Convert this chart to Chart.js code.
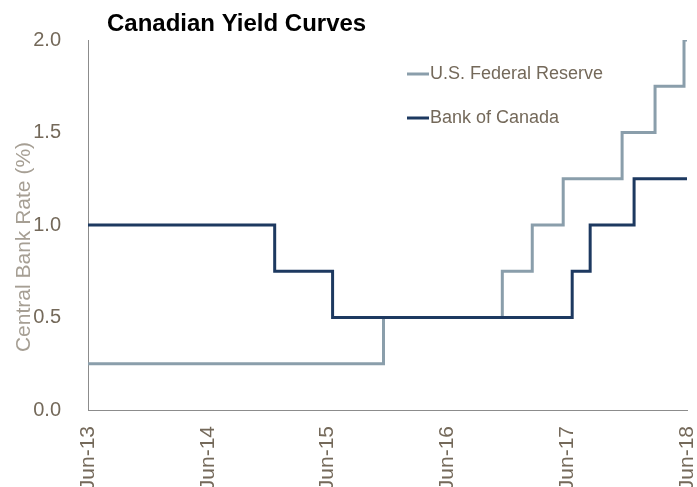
<!DOCTYPE html>
<html>
<head>
<meta charset="utf-8">
<script src="https://cdn.jsdelivr.net/npm/chart.js@4"></script>
<style>
  html, body { margin: 0; padding: 0; background: #fff; }
  #wrap { width: 697px; height: 487px; position: relative; }
</style>
</head>
<body>
<div id="wrap"><canvas id="rateChart"></canvas></div>
<script>
// months after Jun-13 where each rate took effect (last point = end of chart)
const fedMonths = [0, 29.6, 41.5, 44.5, 47.6, 53.5, 56.8, 59.7, 60];
const fedRates  = [0.25, 0.5, 0.75, 1.0, 1.25, 1.5, 1.75, 2.0, 2.0];
const bocMonths = [0, 18.7, 24.5, 48.5, 50.3, 54.7, 60];
const bocRates  = [1.0, 0.75, 0.5, 0.75, 1.0, 1.25, 1.25];
const yearLabels = ['Jun-13', 'Jun-14', 'Jun-15', 'Jun-16', 'Jun-17', 'Jun-18'];

const FED_COLOR = '#8a9eab';
const BOC_COLOR = '#1d3960';
const TEXT_COLOR = '#74695a';
const FONT = '"Liberation Sans", Arial, sans-serif';

const toPoints = (xs, ys) => xs.map((x, i) => ({ x: x, y: ys[i] }));

// title, axis title and legend drawn by hand (legend sits inside the plot)
const decorPlugin = {
    id: 'decor',
    afterDraw(chart) {
        const ctx = chart.ctx;
        ctx.save();
        ctx.fillStyle = '#000';
        ctx.font = 'bold 24px ' + FONT;
        ctx.textBaseline = 'alphabetic';
        ctx.fillText('Canadian Yield Curves', 107, 31);

        ctx.save();
        ctx.translate(24, 247);
        ctx.rotate(-Math.PI / 2);
        ctx.textAlign = 'center';
        ctx.textBaseline = 'middle';
        ctx.fillStyle = '#a69f94';
        ctx.font = '21px ' + FONT;
        ctx.fillText('Central Bank Rate (%)', 0, 0);
        ctx.restore();

        ctx.font = '18px ' + FONT;
        ctx.textBaseline = 'middle';
        chart.data.datasets.forEach((ds, i) => {
            const y = 74 + i * 44;
            ctx.strokeStyle = ds.borderColor;
            ctx.lineWidth = 3;
            ctx.beginPath();
            ctx.moveTo(407, y);
            ctx.lineTo(429, y);
            ctx.stroke();
            ctx.fillStyle = TEXT_COLOR;
            ctx.fillText(ds.label, 430, y);
        });
        ctx.restore();
    }
};

new Chart(document.getElementById('rateChart'), {
    type: 'line',
    data: {
        datasets: [
            {
                label: 'U.S. Federal Reserve',
                data: toPoints(fedMonths, fedRates),
                borderColor: FED_COLOR,
                borderWidth: 3,
                stepped: 'before',
                pointRadius: 0,
                order: 2
            },
            {
                label: 'Bank of Canada',
                data: toPoints(bocMonths, bocRates),
                borderColor: BOC_COLOR,
                borderWidth: 3,
                stepped: 'before',
                pointRadius: 0,
                order: 1 // drawn over the Fed line where they overlap
            }
        ]
    },
    options: {
        responsive: true,
        maintainAspectRatio: false,
        animation: false,
        layout: { padding: { top: 40, right: 10, left: 0, bottom: 0 } },
        plugins: {
            legend: { display: false },
            tooltip: { enabled: false }
        },
        scales: {
            x: {
                type: 'linear',
                min: 0,
                max: 60,
                grid: { display: false },
                border: { display: true, color: '#8c8c8c', width: 1 },
                ticks: {
                    stepSize: 12,
                    minRotation: 90,
                    maxRotation: 90,
                    color: TEXT_COLOR,
                    padding: 8,
                    font: { size: 21, family: FONT },
                    callback: (v) => yearLabels[v / 12]
                },
                afterFit: (scale) => {
                    scale.height = 77;
                    scale.paddingLeft = 0;
                    scale.paddingRight = 0;
                }
            },
            y: {
                min: 0,
                max: 2,
                grid: { display: false },
                border: { display: true, color: '#8c8c8c', width: 1 },
                ticks: {
                    stepSize: 0.5,
                    color: TEXT_COLOR,
                    padding: 19,
                    font: { size: 20, family: FONT },
                    callback: (v) => v.toFixed(1)
                },
                afterFit: (scale) => {
                    scale.width = 88;
                    scale.paddingTop = 0;
                    scale.paddingBottom = 0;
                }
            }
        }
    },
    plugins: [decorPlugin]
});
</script>
</body>
</html>
